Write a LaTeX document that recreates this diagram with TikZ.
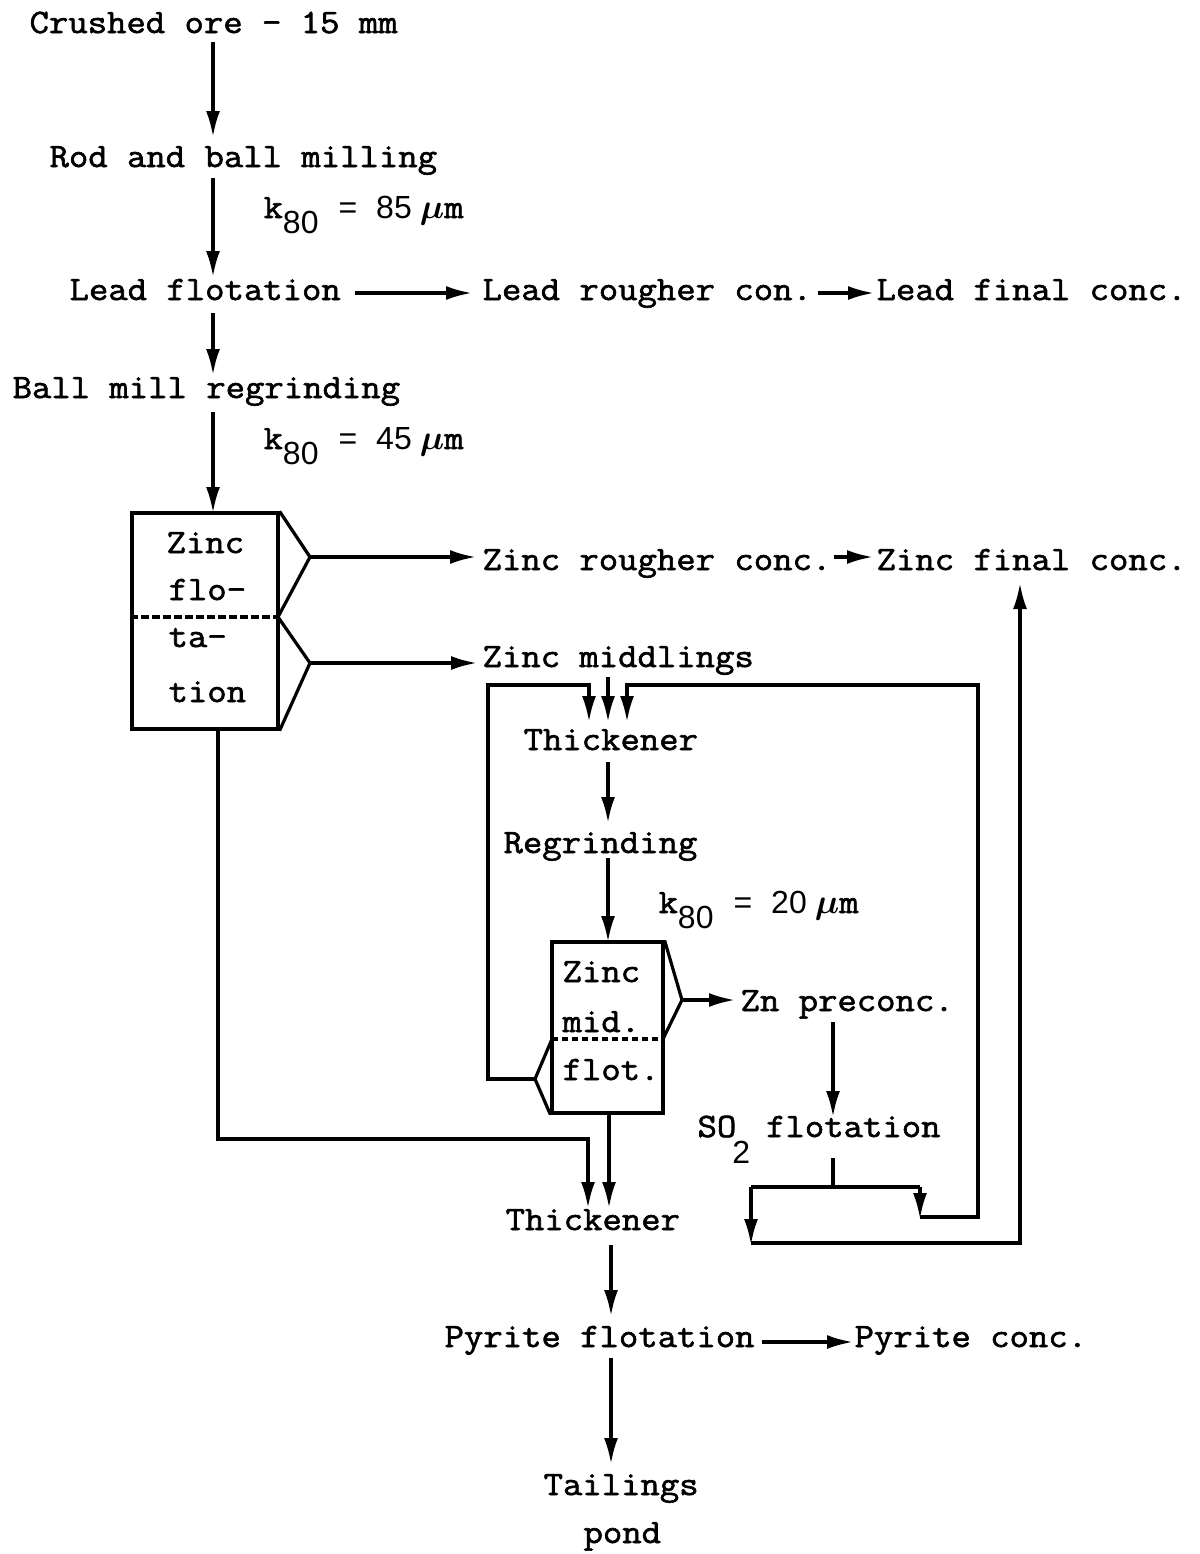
\documentclass[tikz,border=0pt]{standalone}
\usepackage{fontspec}
\usetikzlibrary{arrows.meta}
\newfontfamily\tw{Latin Modern Mono}[FakeStretch=1.1, FakeBold=1.8]
\newfontfamily\lt{Liberation Sans}
\newcommand\ltr{\lt\fontsize{16}{18}\selectfont}
\newcommand\kval[1]{k\raisebox{-7.5pt}{\ltr 80}\kern10pt{\ltr =}\kern9.5pt{\ltr #1}\kern4pt$\boldsymbol{\mu}$m}
\tikzset{
  lbl/.style={anchor=base west, inner sep=0pt, font=\tw\fontsize{17.1}{19}\selectfont},
  arr/.style={-{Latex[length=13pt,width=7pt]}},
  tbox/.style={draw, inner sep=0pt},
  dsh/.style={dash pattern=on 4pt off 1.5pt},
}
\usepackage{amsmath}
\usepackage{bm}
\begin{document}
\begin{tikzpicture}[x=0.5pt,y=-0.5pt,line width=1.6pt]
\useasboundingbox (0,0) rectangle (1200,1554);

% ---------- text nodes ----------
\node[lbl] (crushed) at (28,33) {Crushed ore - 15 mm};
\node[lbl] (rod) at (48,167) {Rod and ball milling};
\node[lbl] (k85) at (262,218) {\kval{85}};
\node[lbl] (lead) at (68,300) {Lead flotation};
\node[lbl] (leadr) at (481,300) {Lead rougher con.};
\node[lbl] (leadf) at (875,300) {Lead final conc.};
\node[lbl] (ball) at (11,398) {Ball mill regrinding};
\node[lbl] (k45) at (262,449) {\kval{45}};
\node[lbl] (zrc) at (481,570) {Zinc rougher conc.};
\node[lbl] (zfc) at (875,570) {Zinc final conc.};
\node[lbl] (zmd) at (481,667) {Zinc middlings};
\node[lbl] (thk1) at (522,750) {Thickener};
\node[lbl] (regr) at (502,853) {Regrinding};
\node[lbl] (k20) at (657,913) {\kval{20}};
\node[lbl] (zpre) at (739,1011) {Zn preconc.};
\node[lbl] (so2) at (696,1137) {SO\kern-2pt\raisebox{-13pt}{\ltr 2}\kern8pt flotation};
\node[lbl] (thk2) at (504,1230) {Thickener};
\node[lbl] (pyr) at (443,1347) {Pyrite flotation};
\node[lbl] (pyc) at (853,1347) {Pyrite conc.};
\node[lbl] (tail) at (542,1495) {Tailings};
\node[lbl] (pond) at (582,1543) {pond};

% ---------- zinc flotation box ----------
\node[tbox, minimum width=73pt, minimum height=108pt] (zf) at (205,621) {};
\node[lbl] (zf1) at (165,553) {Zinc};
\node[lbl] (zf2) at (167,600) {flo-};
\node[lbl] (zf3) at (167,647) {ta-};
\node[lbl] (zf4) at (167,702) {tion};
\coordinate (zfdiv) at (278,617);
\coordinate (zfa) at (310,557);
\coordinate (zfb) at (310,663);
\draw[dsh] (zf.west |- zfdiv) -- (zfdiv);
\draw (zf.north east) -- (zfa) -- (zfdiv) -- (zfb) -- (zf.south east);

% ---------- zinc middlings flotation box ----------
\node[tbox, minimum width=55.5pt, minimum height=85.5pt] (zm) at (607.5,1027.5) {};
\node[lbl] (zm1) at (561,982) {Zinc};
\node[lbl] (zm2) at (561,1032) {mid.};
\node[lbl] (zm3) at (561,1080) {flot.};
\coordinate (zmdiv) at (663,1039);
\coordinate (zmdivl) at (552,1039);
\coordinate (zma) at (682,1000);
\coordinate (zmb) at (535,1079);
\draw[dash pattern=on 3pt off 2pt] (zmdivl) -- (zmdiv);
\draw (zm.north east) -- (zma) -- (zmdiv);
\draw (zmdivl) -- (zmb) -- (zm.south west);

% ---------- main column ----------
\draw[arr] (213,42) -- (213,137);
\draw[arr] (213,178) -- (213,277);
\draw[arr] (213,313) -- (213,375);
\draw[arr] (213,412) -- (213,513);
\draw[arr] (355,293) -- (472,293);
\draw[arr] (818,293) -- (874,293);

% ---------- zinc flotation products ----------
\draw[arr] (zfa) -- (476,557);
\draw[arr] (834,557) -- (873,557);
\draw[arr] (zfb) -- (477,663);

% ---------- middlings circuit ----------
\draw[arr] (608,677) -- (608,722);
\draw[arr] (zmb) -- (488,1079) -- (488,685) -- (589,685) -- (589,722);
\draw[arr] (608,762) -- (608,823);
\draw[arr] (608,858) -- (608,942);
\draw[arr] (zma) -- (735,1000);
\draw[arr] (833,1022) -- (833,1117);
\draw (833,1158) -- (833,1187);
\draw (751,1187) -- (920,1187);
\draw[arr] (920,1187) -- (920,1219);
\draw[arr] (920,1217) -- (978,1217) -- (978,685) -- (627,685) -- (627,722);
\draw[arr] (751,1187) -- (751,1245);
\draw[arr] (751,1243) -- (1020,1243) -- (1020,583);

% ---------- tailings ----------
\draw[arr] (218,729) -- (218,1139) -- (588,1139) -- (588,1208);
\draw[arr] (609,1113) -- (609,1208);
\draw[arr] (611,1245) -- (611,1316);
\draw[arr] (762,1342) -- (853,1342);
\draw[arr] (611,1358) -- (611,1464);
\end{tikzpicture}
\end{document}
